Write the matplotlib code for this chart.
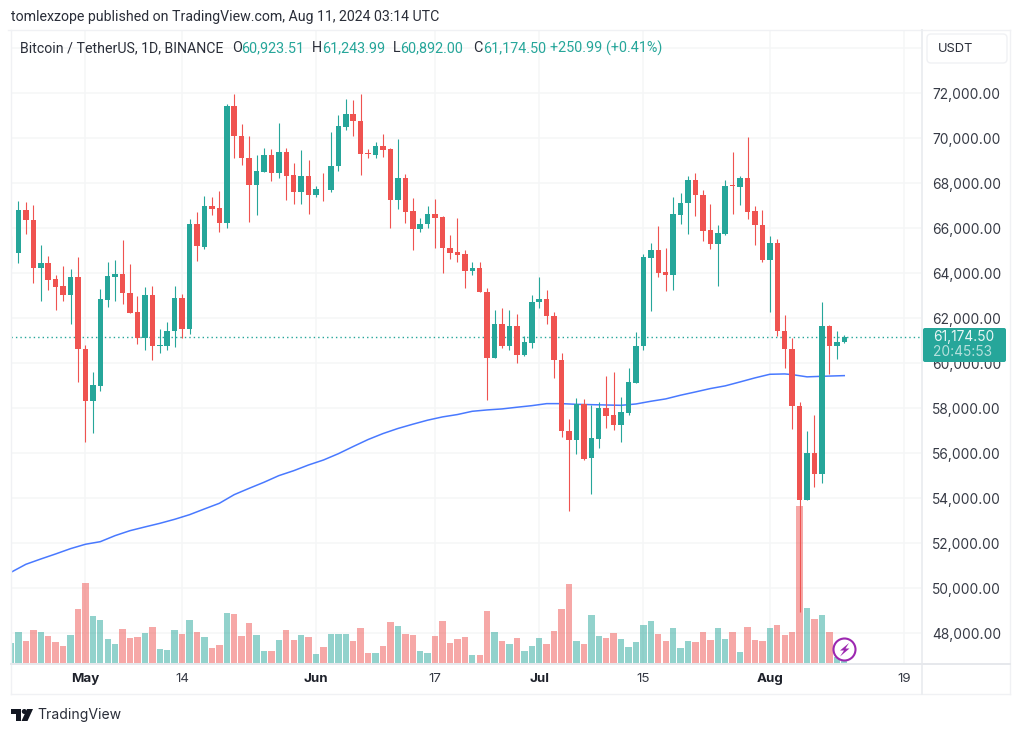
import matplotlib
matplotlib.use("Agg")
import matplotlib.pyplot as plt
from matplotlib.patches import Circle, FancyBboxPatch, Polygon

# days counted from 1 May 2024, first candle is 21 Apr
first_day = -10
opens = [64880, 64890, 66790, 66370, 64230, 64450, 63720, 63410, 63040, 63840,
         60630, 58300, 59000, 62820, 63830, 63960, 63120, 62260, 61130, 63040,
         60750, 60760, 61410, 62890, 61500, 66170, 65170, 66980, 66880, 66210,
         71410, 70110, 69110, 67900, 68490, 69250, 68450, 69400, 68340, 67590,
         68330, 67480, 67750, 67710, 68740, 70490, 71080, 70760, 69350, 69250,
         69630, 69500, 67260, 68240, 66740, 65970, 66170, 66640, 66480, 65130,
         64920, 64830, 64080, 64220, 63160, 60210, 61750, 60770, 61650, 60360,
         60910, 62700, 62860, 62090, 60150, 57000, 56570, 58170, 55770, 56640,
         57990, 57680, 57260, 57780, 59110, 60750, 64660, 65010, 64030, 63910,
         66600, 67100, 68120, 67480, 65900, 65310, 65750, 67900, 67840, 68210,
         66740, 66150, 64570, 65320, 61440, 60640, 58080, 53930, 55980, 55060,
         61650, 60760, 60923.51]
highs = [65650, 67190, 67140, 67040, 65250, 64770, 63890, 64330, 64180, 64700,
         60820, 59580, 63280, 64510, 64600, 65460, 64390, 62970, 63380, 63440,
         61490, 61840, 63410, 63060, 66420, 66710, 67410, 67370, 67660, 71500,
         71940, 70640, 70080, 69230, 69570, 69510, 70670, 69570, 68910, 69470,
         69010, 67850, 68430, 70270, 71040, 71730, 71680, 71970, 69530, 69810,
         70170, 69540, 69970, 68400, 67340, 66430, 66970, 67280, 66540, 65690,
         66430, 65010, 64490, 64480, 63320, 62370, 62430, 62340, 62170, 61190,
         63010, 63810, 63230, 62250, 60460, 57500, 58430, 58390, 58140, 58260,
         59410, 59590, 58480, 59800, 61380, 64860, 65350, 66090, 65110, 67370,
         67560, 68330, 68430, 67710, 67050, 66150, 68150, 69360, 68300, 70050,
         66970, 66820, 65630, 65530, 62150, 61090, 58270, 56980, 57680, 62690,
         61680, 61430, 61243.99]
lows = [64230, 64450, 65720, 63560, 62750, 63260, 62350, 62750, 61720, 59150,
        56500, 56870, 58760, 62490, 62760, 62640, 62240, 60830, 60570, 60120,
        60440, 60570, 60700, 61130, 61280, 64550, 65070, 66570, 65810, 66020,
        69110, 68790, 66270, 66570, 68490, 68080, 68210, 67230, 67080, 67080,
        66640, 67380, 67200, 67590, 68540, 70360, 70080, 68370, 69110, 69100,
        69140, 66020, 66860, 66210, 65010, 65810, 65990, 65100, 64000, 64630,
        64510, 63330, 63910, 63140, 58340, 60210, 60650, 60570, 60020, 60330,
        60650, 62430, 61750, 59340, 56700, 53430, 55960, 55680, 54200, 56230,
        57120, 57010, 56480, 57710, 59110, 60570, 62330, 63830, 63200, 63260,
        66200, 65750, 66520, 65410, 65080, 63430, 65690, 66630, 67030, 66390,
        65260, 64480, 62260, 61190, 59800, 57070, 48920, 53900, 54500, 54670,
        59490, 60180, 60892]
closes = [64910, 66790, 66340, 64230, 64460, 63710, 63380, 63040, 63840, 60610,
          58300, 59010, 62830, 63860, 63950, 63100, 62240, 61130, 63040, 60750,
          60800, 61430, 62890, 61500, 66170, 65190, 66980, 66860, 66210, 71410,
          70090, 69100, 67900, 68520, 69250, 68450, 69400, 68330, 67590, 68330,
          67480, 67720, 67720, 68770, 70520, 71080, 70740, 69290, 69310, 69630,
          69470, 67260, 68240, 66710, 65970, 66200, 66640, 66430, 65100, 64910,
          64790, 64090, 64220, 63140, 60230, 61750, 60770, 61650, 60360, 60920,
          62710, 62860, 62080, 60140, 56980, 56570, 58180, 55750, 56660, 58000,
          57650, 57260, 57810, 59140, 60740, 64690, 65010, 64000, 63910, 66610,
          67100, 68120, 67470, 65870, 65310, 65770, 67880, 67870, 68210, 66730,
          66120, 64570, 65320, 61440, 60640, 58080, 53930, 55980, 55060, 61650,
          60760, 60920, 61174.50]
volumes = [59, 94, 67, 99, 93, 81, 63, 51, 84, 161, 239, 141, 129, 72, 56, 102, 76, 78, 90, 108,
           41, 39, 98, 88, 129, 93, 79, 44, 54, 150, 147, 82, 120, 84, 37, 37, 69, 98, 70, 84,
           79, 27, 48, 88, 88, 87, 66, 106, 31, 31, 52, 123, 111, 88, 84, 36, 29, 82, 126, 61,
           72, 78, 24, 25, 155, 93, 67, 56, 75, 36, 52, 75, 56, 96, 161, 238, 66, 58, 143, 82,
           74, 90, 71, 48, 64, 114, 126, 88, 67, 106, 44, 66, 64, 94, 70, 105, 72, 94, 34, 108,
           69, 67, 106, 114, 84, 94, 472, 165, 131, 143, 93, 17, 9]

ma_days = [-10, -8, -6, -4, -2, 0, 2, 4, 6, 8, 10, 12, 14, 16, 18, 20, 22, 24, 26, 28,
           30, 32, 34, 36, 38, 40, 42, 44, 46, 48, 50, 52, 54, 56, 58, 60, 62, 64, 66, 68,
           70, 72, 74, 76, 78, 80, 82, 84, 86, 88, 90, 92, 94, 95, 97, 99, 102]
ma_values = [50700, 51055, 51290, 51515, 51750, 51945, 52060, 52330, 52550, 52715,
             52875, 53055, 53260, 53515, 53765, 54150, 54430, 54700, 54995, 55215,
             55470, 55690, 55970, 56290, 56600, 56865, 57090, 57280, 57460, 57605,
             57710, 57855, 57915, 57960, 58035, 58105, 58195, 58195, 58165, 58150,
             58135, 58120, 58180, 58300, 58405, 58570, 58715, 58865, 58985, 59160,
             59340, 59500, 59515, 59485, 59385, 59410, 59440]

price_ticks = list(range(48000, 76000, 2000))
price_labels = [f"{p:,.2f}" for p in price_ticks[:-1]] + [""]
time_ticks = [0, 13, 31, 47, 61, 75, 92, 110]
time_labels = ["May", "14", "Jun", "17", "Jul", "15", "Aug", "19"]
bold_labels = ["May", "Jun", "Jul", "Aug"]

up = "#26a69a"
down = "#ef5350"
dark = "#2a2e39"
grid = "#f5f6f7"
frame = "#f0f1f4"

plt.rcParams["font.family"] = ["Inter", "DejaVu Sans"]
fig = plt.figure(figsize=(10.23, 7.34), dpi=100)
ax = fig.add_axes([11 / 1023, 70 / 734, 911 / 1023, 634 / 734])
ax.set_xlim(-10, 112.45)
ax.set_ylim(46624, 74800)

days = [first_day + i for i in range(len(closes))]
colors = [up if c >= o else down for o, c in zip(opens, closes)]

# volume sits on the pane bottom, height measured as part of the pane
vol_scale = 1902
ax.bar(days, [v / vol_scale for v in volumes], bottom=3 / vol_scale, width=0.86,
       color=colors, alpha=0.5, linewidth=0, zorder=1,
       transform=ax.get_xaxis_transform())

ax.axhline(closes[-1], color=up, lw=1, ls=(0, (1, 2.2)), zorder=1.2)
ax.plot(ma_days, ma_values, color="#2962ff", lw=1.1, alpha=0.85, zorder=1.5)

ax.vlines(days, lows, highs, colors=colors, lw=0.8, zorder=2)
bottoms = [min(o, c) for o, c in zip(opens, closes)]
heights = [abs(o - c) for o, c in zip(opens, closes)]
ax.bar(days, heights, bottom=bottoms, width=0.74, color=colors, linewidth=0, zorder=3)

ax.set_yticks(price_ticks)
ax.set_yticklabels(price_labels, fontsize=9.9, color="#363a45")
ax.yaxis.tick_right()
ax.set_xticks(time_ticks)
ax.set_xticklabels(time_labels, fontsize=9.6, color="#363a45")
for lab in ax.get_xticklabels():
    if lab.get_text() in bold_labels:
        lab.set_fontweight("bold")
        lab.set_color("#1f222b")
ax.tick_params(axis="y", length=0, pad=7.5)
ax.tick_params(axis="x", length=0, pad=6.5)
ax.grid(True, color=grid, lw=1.1, zorder=0)
ax.set_axisbelow(True)
for s in ax.spines.values():
    s.set_visible(False)

# everything outside the data, in pixels of the picture
over = fig.add_axes([0, 0, 1, 1], zorder=10)
over.set_xlim(0, 1023)
over.set_ylim(734, 0)
over.axis("off")
over.patch.set_alpha(0)

over.plot([8, 1010], [30, 30], color=frame, lw=1)
over.plot([11, 11], [30, 694], color=frame, lw=1)
over.plot([11, 1010], [694, 694], color=frame, lw=1)
over.plot([1010, 1010], [30, 694], color=frame, lw=1)
over.plot([922, 922], [30, 694], color="#eceef1", lw=1.4)
over.plot([11, 1010], [664, 664], color="#e6e8ec", lw=1.4)

over.text(11, 17.5, "tomlexzope published on TradingView.com, Aug 11, 2024 03:14 UTC",
          family="Roboto", fontsize=10.2, color="#2a2e39", va="center")

over.text(20, 48, "Bitcoin / TetherUS, 1D, BINANCE", family="Roboto", fontsize=10.2,
          color=dark, va="center")
legend_parts = [(232, "O", dark), (241.5, "60,923.51", up), (312, "H", dark),
                (322, "61,243.99", up), (393, "L", dark), (400, "60,892.00", up),
                (473, "C", dark), (483, "61,174.50", up), (549.5, "+250.99 (+0.41%)", up)]
for px, txt, col in legend_parts:
    over.text(px, 48, txt, family="Roboto", fontsize=10.4, color=col, va="center")

over.add_patch(FancyBboxPatch((927, 34), 80, 29, boxstyle="round,pad=0,rounding_size=4",
                              fc="white", ec=frame, lw=1, mutation_aspect=1))
over.text(938, 48.5, "USDT", fontsize=9.3, color=dark, va="center")

over.add_patch(FancyBboxPatch((923, 328), 83, 34, boxstyle="round,pad=0,rounding_size=2",
                              fc=up, ec="none"))
over.text(933, 337.5, "61,174.50", fontsize=9.9, color="#e9f6f5", va="center")
over.text(933, 352.5, "20:45:53", fontsize=9.9, color="#b4e0dc", va="center")

# lightning mark over the last volume bars
over.add_patch(Circle((844.5, 649.5), 11, fc="white", ec="#9c27b0", lw=1.5))
over.add_patch(Polygon([(849, 643), (840, 650.5), (844, 650.5), (840, 656.5),
                        (849.5, 648.5), (845.5, 648.5)], fc="#9c27b0", ec="none"))

# TradingView logo
logo = "#131722"
over.add_patch(Polygon([(11, 709), (21, 709), (21, 721), (16, 721), (16, 714), (11, 714)],
                       fc=logo, ec="none"))
over.add_patch(Circle((24.3, 711.5), 2.5, fc=logo, ec="none"))
over.add_patch(Polygon([(27, 709), (33, 709), (27.5, 721), (21.5, 721)], fc=logo, ec="none"))
over.text(37, 715, "TradingView", fontsize=10.1, color="#2a2e39", va="center")

fig.savefig("out.png", dpi=100)
